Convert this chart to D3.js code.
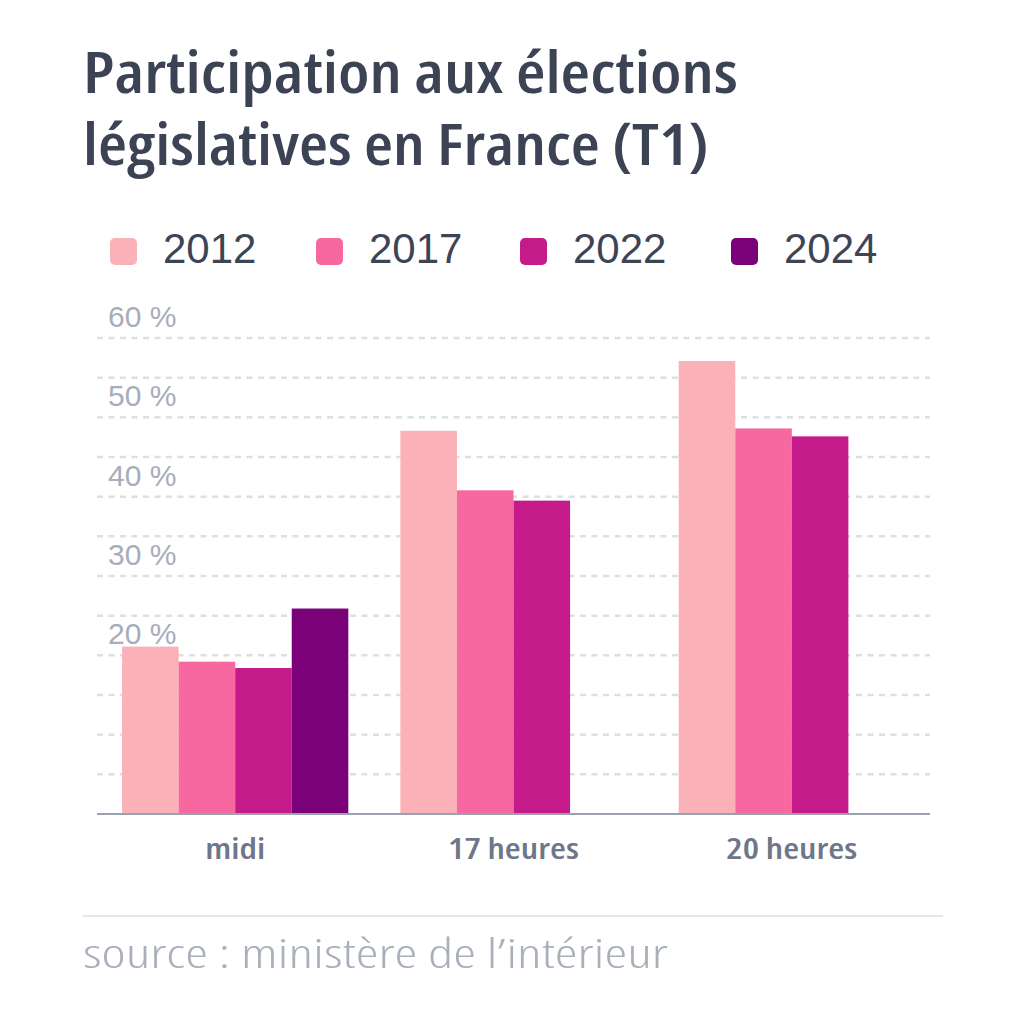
<!DOCTYPE html>
<html>
<head>
<meta charset="utf-8">
<script src="https://cdn.jsdelivr.net/npm/d3@7"></script>
<style>
  body { margin: 0; background: #fff; }
  svg { display: block; }
</style>
</head>
<body>
<div id="chart"></div>
<script>
  // data (turnout, % of registered voters)
  var groups = ["midi", "17 heures", "20 heures"]
  var years = ["2012", "2017", "2022", "2024"]
  var p2012 = [21.1, 48.3, 57.1]
  var p2017 = [19.2, 40.8, 48.6]
  var p2022 = [18.4, 39.5, 47.6]
  var p2024 = [25.9, null, null]
  var yLabels = [20, 30, 40, 50, 60]
  var colors = ["#fab2b8", "#f768a1", "#c51b8a", "#7a0177"]

  var titleLines = ["Participation aux élections", "législatives en France (T1)"]
  var sourceText = "source : ministère de l\u2019intérieur"

  var condensed = "'Open Sans', 'DejaVu Sans Condensed', sans-serif"
  var regular = "'Liberation Sans', 'Arimo', 'Helvetica', sans-serif"

  var series = [p2012, p2017, p2022, p2024]

  var chartW = 1024, chartH = 1024
  var xLeft = 97, xRight = 930, yBase = 814, yTop = 338

  var svg = d3.select("#chart").append("svg")
      .attr("width", chartW)
      .attr("height", chartH)

  // scales
  var x0 = d3.scaleBand().domain(groups).range([xLeft, xRight])
      .paddingInner(0.187).paddingOuter(0.09)
  var x1 = d3.scaleBand().domain(years).range([0, x0.bandwidth()])
  var y = d3.scaleLinear().domain([0, 60]).range([yBase, yTop])

  // condensed text drawn at (x, y), stretched sideways to the wanted width
  function stretchedText(parent, x, y, target, anchorMiddle) {
    var t = parent.append("text")
        .attr("x", 0)
        .attr("y", 0)
        .attr("font-family", condensed)
        .style("font-stretch", "75%")
    t.fit = function(str) {
      t.text(str)
      var w = t.node().getComputedTextLength()
      var k = target / w
      if (anchorMiddle) t.attr("text-anchor", "middle")
      t.attr("transform", "translate(" + x + "," + y + ") scale(" + k + ",1)")
      return t
    }
    return t
  }

  // title
  titleLines.forEach(function(s, i) {
    var tt = stretchedText(svg, 83, 93 + i * 72, i == 0 ? 655 : 626)
        .attr("font-weight", 600)
        .attr("font-size", 57)
        .attr("fill", "#3b4354")
    tt.fit(s)
  })

  // legend
  var legX = [110, 316, 520, 731]
  years.forEach(function(yr, i) {
    svg.append("rect")
        .attr("x", legX[i])
        .attr("y", 238)
        .attr("width", 27)
        .attr("height", 27)
        .attr("rx", 5)
        .attr("fill", colors[i])
    svg.append("text")
        .attr("x", legX[i] + 53)
        .attr("y", 263)
        .attr("font-family", regular)
        .attr("font-size", 42)
        .attr("fill", "#3d4555")
        .text(yr)
  })

  // dashed gridlines every 5 %
  svg.append("g").selectAll("line")
      .data(y.ticks(12).filter(function(d) { return d > 0 }))
    .enter().append("line")
      .attr("x1", xLeft)
      .attr("x2", xRight)
      .attr("y1", function(d) { return y(d) })
      .attr("y2", function(d) { return y(d) })
      .attr("stroke", "#dedfe2")
      .attr("stroke-width", 2.5)
      .attr("stroke-dasharray", "6,5.5")

  // y labels sit above their line
  svg.append("g").selectAll("text")
      .data(yLabels)
    .enter().append("text")
      .attr("x", 108)
      .attr("y", function(d) { return y(d) - 11 })
      .attr("font-family", regular)
      .attr("font-size", 30)
      .attr("fill", "#a7adba")
      .text(function(d) { return d + " %" })

  // bars
  var g = svg.append("g")
  series.forEach(function(vals, si) {
    g.selectAll(".bar" + si)
        .data(vals.map(function(v, gi) { return {group: groups[gi], value: v} })
                  .filter(function(d) { return d.value != null }))
      .enter().append("rect")
        .attr("class", "bar" + si)
        .attr("x", function(d) { return x0(d.group) + x1(years[si]) })
        .attr("width", x1.bandwidth())
        .attr("y", function(d) { return y(d.value) })
        .attr("height", function(d) { return yBase - y(d.value) })
        .attr("fill", colors[si])
  })

  // baseline
  svg.append("line")
      .attr("x1", xLeft)
      .attr("x2", xRight)
      .attr("y1", yBase)
      .attr("y2", yBase)
      .attr("stroke", "#9ba1ae")
      .attr("stroke-width", 2)

  // category labels, all with the same sideways stretch
  var catG = svg.append("g")
  var probe = catG.append("text")
      .attr("font-family", condensed)
      .style("font-stretch", "75%")
      .attr("font-weight", 600)
      .attr("font-size", 29)
      .text("17 heures")
  var catK = 131 / probe.node().getComputedTextLength()
  probe.remove()

  catG.selectAll("text")
      .data(groups)
    .enter().append("text")
      .attr("transform", function(d) {
        return "translate(" + (x0(d) + x0.bandwidth() / 2) + ",859) scale(" + catK + ",1)"
      })
      .attr("text-anchor", "middle")
      .attr("font-family", condensed)
      .style("font-stretch", "75%")
      .attr("font-weight", 600)
      .attr("font-size", 29)
      .attr("fill", "#6e7789")
      .text(function(d) { return d })

  // footer
  svg.append("line")
      .attr("x1", 83)
      .attr("x2", 943)
      .attr("y1", 916)
      .attr("y2", 916)
      .attr("stroke", "#e4e6ea")
      .attr("stroke-width", 2)

  stretchedText(svg, 83, 968, 585)
      .attr("font-weight", 300)
      .attr("font-size", 41)
      .attr("fill", "#a9afbb")
      .fit(sourceText)
</script>
</body>
</html>
